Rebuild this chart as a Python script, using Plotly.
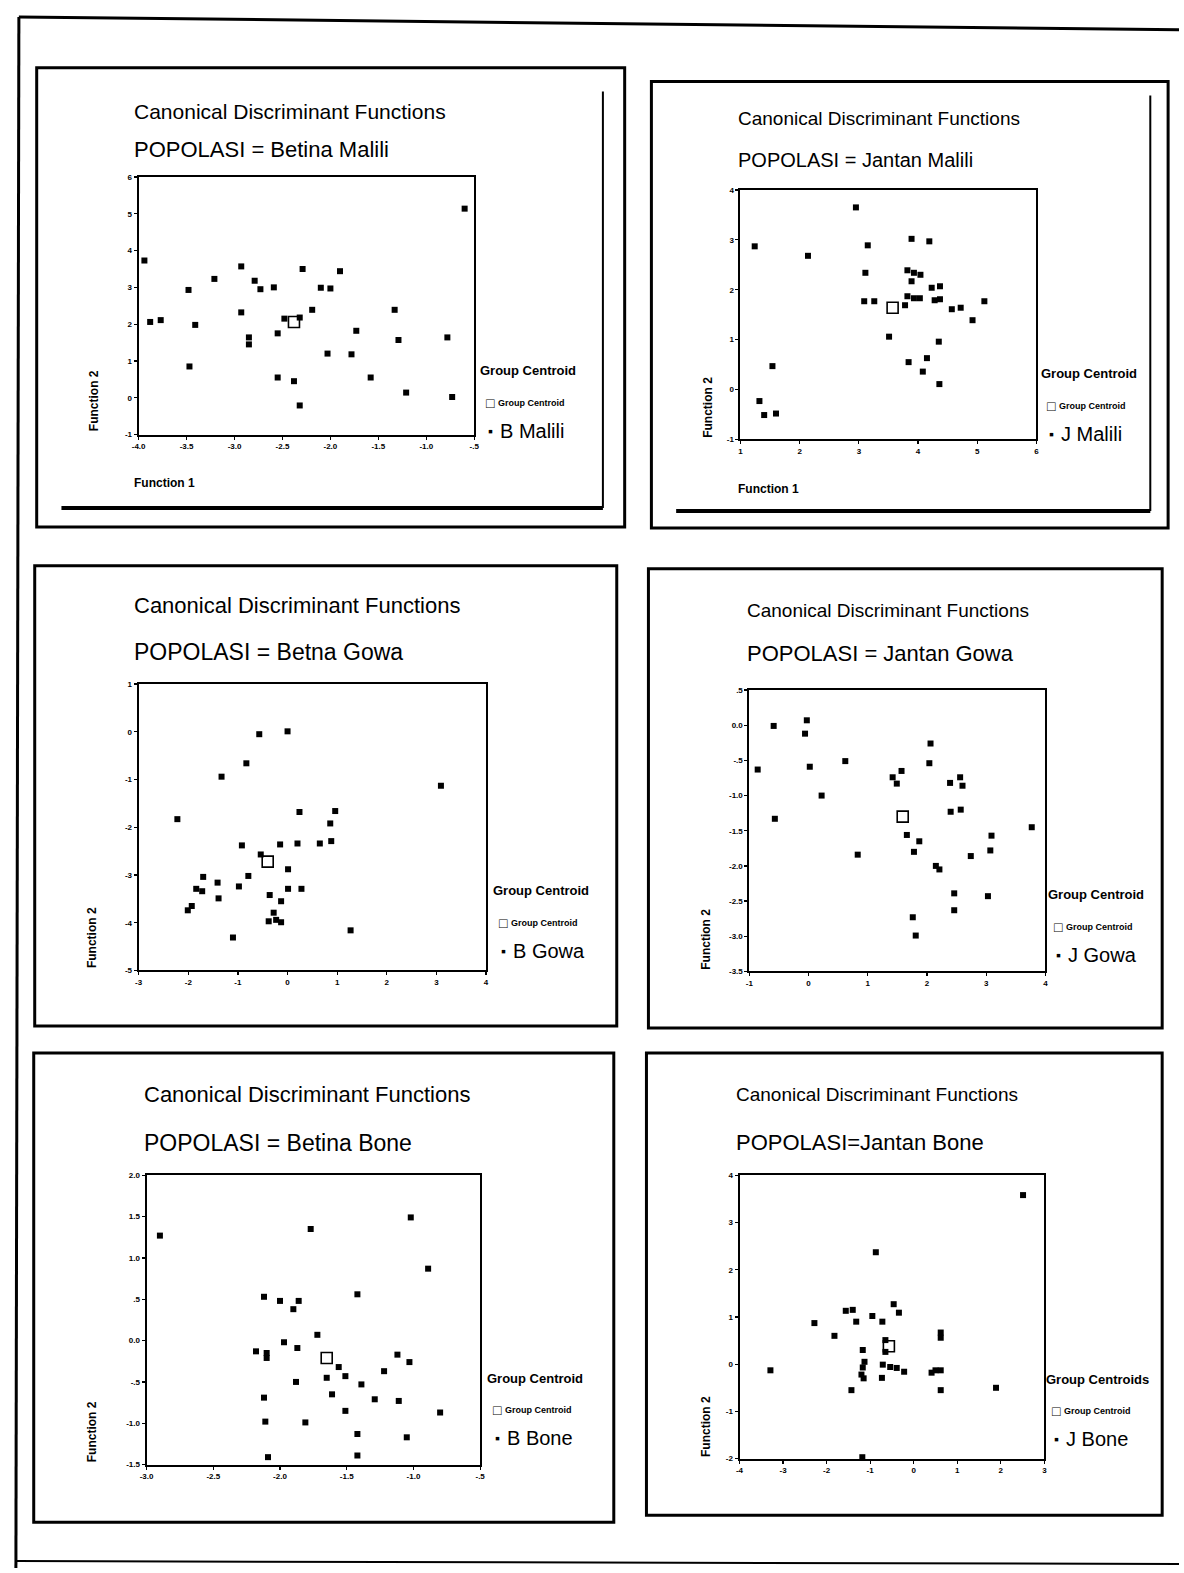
import plotly.graph_objects as go

# ---------------- data ----------------
# Betina Malili
bm_f1 = [-0.60, -3.94, -3.88, -3.77, -3.48, -3.41, -3.47, -3.21, -2.93, -2.93, -2.85, -2.85, -2.79, -2.73, -2.59,
         -2.55, -2.48, -2.32, -2.29, -2.55, -2.38, -2.32, -2.19, -2.10, -2.00, -2.03, -1.90, -1.78, -1.73, -1.58,
         -1.33, -1.29, -1.21, -0.78, -0.73]
bm_f2 = [5.14, 3.73, 2.06, 2.11, 2.93, 1.98, 0.85, 3.23, 3.57, 2.32, 1.64, 1.45, 3.18, 2.95, 3.00,
         1.75, 2.15, 2.18, 3.50, 0.55, 0.45, -0.21, 2.39, 2.99, 2.97, 1.20, 3.44, 1.18, 1.82, 0.55,
         2.39, 1.57, 0.14, 1.64, 0.02]
bm_centroid = [-2.38, 2.06]

# Jantan Malili
jm_f1 = [1.24, 1.54, 1.32, 1.40, 1.60, 2.14, 2.95, 3.15, 3.11, 3.09, 3.26, 3.51, 3.78, 3.82, 3.93,
         4.03, 3.82, 3.93, 4.04, 3.89, 3.89, 4.19, 4.23, 4.37, 4.28, 4.37, 4.57, 4.72, 5.12, 4.92,
         4.35, 4.15, 3.84, 4.08, 4.36]
jm_f2 = [2.87, 0.47, -0.23, -0.51, -0.48, 2.68, 3.65, 2.89, 2.34, 1.77, 1.77, 1.06, 1.69, 1.87, 1.83,
         1.83, 2.39, 2.34, 2.30, 2.17, 3.02, 2.97, 2.04, 2.07, 1.79, 1.81, 1.61, 1.64, 1.77, 1.39,
         0.96, 0.63, 0.55, 0.36, 0.11]
jm_centroid = [3.57, 1.64]

# Betina Gowa
bg_f1 = [-2.22, -1.33, -0.83, -0.57, 0.00, 3.09, 0.24, 0.96, 0.86, 0.88, 0.65, 0.20, -0.15, -0.92, -0.54,
         0.01, -0.79, -1.70, -1.41, -0.98, -1.84, -1.72, 0.01, 0.28, -0.36, -1.39, -0.13, -1.93, -2.01, -0.28,
         -0.38, -0.23, -0.13, -1.10, 1.27]
bg_f2 = [-1.83, -0.94, -0.66, -0.05, 0.01, -1.13, -1.68, -1.66, -1.92, -2.29, -2.34, -2.34, -2.36, -2.38, -2.57,
         -2.88, -3.02, -3.04, -3.16, -3.24, -3.29, -3.34, -3.29, -3.29, -3.42, -3.49, -3.55, -3.65, -3.74, -3.79,
         -3.97, -3.94, -3.99, -4.31, -4.16]
bg_centroid = [-0.40, -2.72]

# Jantan Gowa
jg_f1 = [-0.86, -0.59, -0.57, -0.03, -0.06, 0.02, 0.22, 0.62, 0.83, 1.42, 1.49, 1.57, 1.66, 1.87, 1.78,
         2.06, 2.04, 2.15, 2.21, 2.39, 2.56, 2.60, 2.40, 2.57, 2.74, 3.09, 3.07, 3.77, 2.46, 2.46,
         3.03, 1.76, 1.81]
jg_f2 = [-0.63, -0.01, -1.33, 0.07, -0.12, -0.59, -1.00, -0.51, -1.84, -0.74, -0.83, -0.65, -1.56, -1.65, -1.80,
         -0.26, -0.54, -2.00, -2.05, -0.82, -0.74, -0.86, -1.23, -1.20, -1.86, -1.57, -1.78, -1.45, -2.39, -2.63,
         -2.43, -2.73, -2.99]
jg_centroid = [1.59, -1.30]

# Betina Bone
bb_f1 = [-2.90, -1.77, -1.02, -0.89, -1.42, -2.12, -2.00, -1.86, -1.90, -1.72, -1.97, -1.87, -2.18, -2.10, -2.10,
         -1.56, -1.12, -1.03, -1.22, -1.65, -1.51, -1.88, -1.39, -2.12, -1.61, -1.29, -1.11, -1.51, -0.80, -2.11,
         -1.81, -1.42, -1.05, -2.09, -1.42]
bb_f2 = [1.27, 1.35, 1.49, 0.87, 0.56, 0.53, 0.48, 0.48, 0.38, 0.07, -0.02, -0.09, -0.13, -0.15, -0.21,
         -0.32, -0.17, -0.26, -0.37, -0.45, -0.43, -0.50, -0.53, -0.69, -0.65, -0.71, -0.73, -0.85, -0.87, -0.98,
         -0.99, -1.13, -1.17, -1.41, -1.39]
bb_centroid = [-1.65, -0.21]

# Jantan Bone
jb_f1 = [2.51, -0.87, -3.29, -2.28, -1.82, -1.56, -1.40, -1.32, -0.95, -0.72, -0.46, -0.34, 0.62, 0.62, -0.65,
         -0.65, -1.17, -1.13, -1.17, -1.20, -1.15, -0.71, -0.54, -0.39, -0.22, -0.73, -1.43, 0.41, 0.50, 0.62,
         0.62, 1.89, -1.18]
jb_f2 = [3.58, 2.37, -0.13, 0.87, 0.60, 1.13, 1.15, 0.90, 1.02, 0.90, 1.27, 1.09, 0.67, 0.56, 0.51,
         0.26, 0.30, 0.05, -0.07, -0.22, -0.30, -0.01, -0.06, -0.08, -0.16, -0.29, -0.55, -0.18, -0.13, -0.13,
         -0.55, -0.50, -1.97]
jb_centroid = [-0.57, 0.38]

# tick values / labels
p1_xticks = [-4.0, -3.5, -3.0, -2.5, -2.0, -1.5, -1.0, -0.5]
p1_xlabels = ["-4.0", "-3.5", "-3.0", "-2.5", "-2.0", "-1.5", "-1.0", "-.5"]
p1_yticks = [-1, 0, 1, 2, 3, 4, 5, 6]
p1_ylabels = ["-1", "0", "1", "2", "3", "4", "5", "6"]
p2_xticks = [1, 2, 3, 4, 5, 6]
p2_xlabels = ["1", "2", "3", "4", "5", "6"]
p2_yticks = [-1, 0, 1, 2, 3, 4]
p2_ylabels = ["-1", "0", "1", "2", "3", "4"]
p3_xticks = [-3, -2, -1, 0, 1, 2, 3, 4]
p3_xlabels = ["-3", "-2", "-1", "0", "1", "2", "3", "4"]
p3_yticks = [-5, -4, -3, -2, -1, 0, 1]
p3_ylabels = ["-5", "-4", "-3", "-2", "-1", "0", "1"]
p4_xticks = [-1, 0, 1, 2, 3, 4]
p4_xlabels = ["-1", "0", "1", "2", "3", "4"]
p4_yticks = [0.5, 0.0, -0.5, -1.0, -1.5, -2.0, -2.5, -3.0, -3.5]
p4_ylabels = [".5", "0.0", "-.5", "-1.0", "-1.5", "-2.0", "-2.5", "-3.0", "-3.5"]
p5_xticks = [-3.0, -2.5, -2.0, -1.5, -1.0, -0.5]
p5_xlabels = ["-3.0", "-2.5", "-2.0", "-1.5", "-1.0", "-.5"]
p5_yticks = [-1.5, -1.0, -0.5, 0.0, 0.5, 1.0, 1.5, 2.0]
p5_ylabels = ["-1.5", "-1.0", "-.5", "0.0", ".5", "1.0", "1.5", "2.0"]
p6_xticks = [-4, -3, -2, -1, 0, 1, 2, 3]
p6_xlabels = ["-4", "-3", "-2", "-1", "0", "1", "2", "3"]
p6_yticks = [-2, -1, 0, 1, 2, 3, 4]
p6_ylabels = ["-2", "-1", "0", "1", "2", "3", "4"]

titles = ["POPOLASI = Betina Malili", "POPOLASI = Jantan Malili", "POPOLASI = Betna Gowa",
          "POPOLASI = Jantan Gowa", "POPOLASI = Betina Bone", "POPOLASI=Jantan Bone"]
group_names = ["B Malili", "J Malili", "B Gowa", "J Gowa", "B Bone", "J Bone"]
legend_titles = ["Group Centroid", "Group Centroid", "Group Centroid", "Group Centroid",
                 "Group Centroid", "Group Centroids"]

# ---------------- layout helpers ----------------
W, H = 1184, 1573
FONT = "Liberation Sans, Arial, sans-serif"


def px(x):
    return x / W


def py(y):
    return 1 - y / H


panels = [
    dict(f1=bm_f1, f2=bm_f2, c=bm_centroid, xt=p1_xticks, xl=p1_xlabels, yt=p1_yticks, yl=p1_ylabels,
         xr=[-4.0, -0.5], yr=[-1, 6], plot=(133, 472, 174, 433), box=(30, 624, 64, 526),
         t1=(126, 108, 21), t2=(126, 146, 22), f2lab=(88, 432), f1lab=(126, 482),
         leg=(476, 369), shadow=(55, 602, 88, 507)),
    dict(f1=jm_f1, f2=jm_f2, c=jm_centroid, xt=p2_xticks, xl=p2_xlabels, yt=p2_yticks, yl=p2_ylabels,
         xr=[1, 6], yr=[-1, 4], plot=(741, 1040, 187, 438), box=(651, 1173, 78, 527),
         t1=(736, 115, 19), t2=(736, 157, 20), f2lab=(708, 438), f1lab=(736, 488),
         leg=(1043, 372), shadow=(676, 1155, 92, 510)),
    dict(f1=bg_f1, f2=bg_f2, c=bg_centroid, xt=p3_xticks, xl=p3_xlabels, yt=p3_yticks, yl=p3_ylabels,
         xr=[-3, 4], yr=[-5, 1], plot=(133, 484, 684, 972), box=(28, 616, 565, 1028),
         t1=(126, 605, 22), t2=(126, 652, 23), f2lab=(86, 972), f1lab=None,
         leg=(489, 892), shadow=None),
    dict(f1=jg_f1, f2=jg_f2, c=jg_centroid, xt=p4_xticks, xl=p4_xlabels, yt=p4_yticks, yl=p4_ylabels,
         xr=[-1, 4], yr=[-3.5, 0.5], plot=(750, 1049, 690, 973), box=(648, 1167, 568, 1030),
         t1=(746, 610, 19), t2=(746, 653, 22), f2lab=(706, 973), f1lab=None,
         leg=(1050, 896), shadow=None),
    dict(f1=bb_f1, f2=bb_f2, c=bb_centroid, xt=p5_xticks, xl=p5_xlabels, yt=p5_yticks, yl=p5_ylabels,
         xr=[-3.0, -0.5], yr=[-1.5, 2.0], plot=(141, 478, 1178, 1469), box=(27, 613, 1055, 1527),
         t1=(136, 1097, 22), t2=(136, 1146, 23), f2lab=(86, 1469), f1lab=None,
         leg=(483, 1382), shadow=None),
    dict(f1=jb_f1, f2=jb_f2, c=jb_centroid, xt=p6_xticks, xl=p6_xlabels, yt=p6_yticks, yl=p6_ylabels,
         xr=[-4, 3], yr=[-2, 4], plot=(740, 1048, 1178, 1463), box=(646, 1167, 1055, 1520),
         t1=(734, 1097, 19), t2=(734, 1145, 22), f2lab=(706, 1463), f1lab=None,
         leg=(1048, 1383), shadow=None),
]

fig = go.Figure()
annotations = []
shapes = []
layout_axes = {}

# page border
shapes.append(dict(type="line", xref="paper", yref="paper", x0=px(12), y0=py(13), x1=px(1184), y1=py(26),
                   line=dict(color="black", width=3)))
shapes.append(dict(type="line", xref="paper", yref="paper", x0=px(12), y0=py(13), x1=px(9), y1=py(1573),
                   line=dict(color="black", width=3)))
shapes.append(dict(type="line", xref="paper", yref="paper", x0=px(9), y0=py(1566), x1=px(1184), y1=py(1569),
                   line=dict(color="black", width=2)))


def ann(text, x, y, size, bold=False, xanchor="left", yanchor="middle", angle=0, family=FONT):
    annotations.append(dict(
        text=text, x=px(x), y=py(y), xref="paper", yref="paper", showarrow=False,
        xanchor=xanchor, yanchor=yanchor, textangle=angle,
        font=dict(family=family, size=size, color="black", weight="bold" if bold else "normal")))


for i, p in enumerate(panels):
    k = i + 1
    xa = "xaxis" if k == 1 else f"xaxis{k}"
    ya = "yaxis" if k == 1 else f"yaxis{k}"
    xs = "x" if k == 1 else f"x{k}"
    ys = "y" if k == 1 else f"y{k}"
    l, r, t, b = p["plot"]
    common = dict(showgrid=False, zeroline=False, showline=True, linecolor="black", linewidth=2,
                  mirror=True, ticks="outside", ticklen=3, tickwidth=1.2, tickcolor="black",
                  tickfont=dict(family=FONT, size=8, color="black", weight="bold"), fixedrange=True)
    layout_axes[xa] = dict(domain=[px(l), px(r)], anchor=ys, range=p["xr"], tickmode="array",
                           tickvals=p["xt"], ticktext=p["xl"], **common)
    layout_axes[ya] = dict(domain=[py(b), py(t)], anchor=xs, range=p["yr"], tickmode="array",
                           tickvals=p["yt"], ticktext=p["yl"], **common)

    fig.add_trace(go.Scatter(x=p["f1"], y=p["f2"], mode="markers", xaxis=xs, yaxis=ys, cliponaxis=False,
                             marker=dict(symbol="square", size=6, color="black"), showlegend=False,
                             hoverinfo="skip"))
    fig.add_trace(go.Scatter(x=[p["c"][0]], y=[p["c"][1]], mode="markers", xaxis=xs, yaxis=ys,
                             cliponaxis=False,
                             marker=dict(symbol="square-open", size=11, color="black", line=dict(width=1.6)),
                             showlegend=False, hoverinfo="skip"))

    # panel box
    bl, br, bt, bb_ = p["box"]
    shapes.append(dict(type="rect", xref="paper", yref="paper", x0=px(bl), x1=px(br), y0=py(bb_), y1=py(bt),
                       line=dict(color="black", width=3)))
    if p["shadow"]:
        sl, sr, st, sb = p["shadow"]
        shapes.append(dict(type="line", xref="paper", yref="paper", x0=px(sr), x1=px(sr), y0=py(st), y1=py(sb),
                           line=dict(color="black", width=2)))
        shapes.append(dict(type="line", xref="paper", yref="paper", x0=px(sl), x1=px(sr), y0=py(sb), y1=py(sb),
                           line=dict(color="black", width=4)))

    # titles
    x1_, y1_, s1 = p["t1"]
    ann("Canonical Discriminant Functions", x1_, y1_, s1)
    x2_, y2_, s2 = p["t2"]
    ann(titles[i], x2_, y2_, s2)
    # axis labels
    fx, fy = p["f2lab"]
    ann("Function 2", fx, fy, 12, bold=True, xanchor="center", yanchor="bottom", angle=-90)
    if p["f1lab"]:
        ann("Function 1", p["f1lab"][0], p["f1lab"][1], 12, bold=True)
    # legend
    lx, ly = p["leg"]
    ann(legend_titles[i], lx, ly, 13, bold=True)
    ann("□", lx + 6, ly + 32, 14)
    ann("Group Centroid", lx + 18, ly + 32, 9, bold=True)
    ann("▪", lx + 8, ly + 60, 14)
    ann(group_names[i], lx + 20, ly + 60, 20)

fig.update_layout(
    width=W, height=H, margin=dict(l=0, r=0, t=0, b=0),
    paper_bgcolor="white", plot_bgcolor="white", showlegend=False,
    annotations=annotations, shapes=shapes, **layout_axes)

fig.write_html("out.html", config={"displayModeBar": False, "staticPlot": True},
               post_script="document.body.style.margin='0px';document.body.style.overflow='hidden';")
